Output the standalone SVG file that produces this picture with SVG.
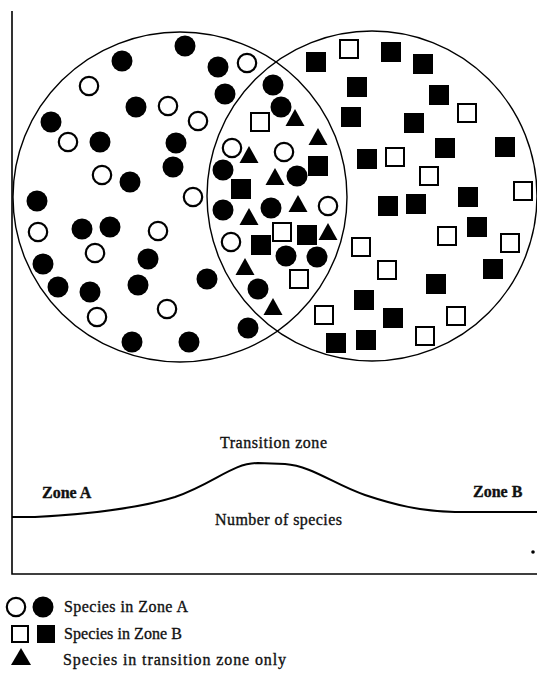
<svg xmlns="http://www.w3.org/2000/svg" xmlns:xlink="http://www.w3.org/1999/xlink" width="537" height="676" viewBox="0 0 537 676">
<style>
.zone{fill:none;stroke:#000;stroke-width:1.4}
.axis{fill:none;stroke:#000;stroke-width:1.6}
.curve{fill:none;stroke:#000;stroke-width:2}
.fc{fill:#000}
.oc{fill:#fff;stroke:#000;stroke-width:2.2}
.fs{fill:#000}
.os{fill:#fff;stroke:#000;stroke-width:2}
.t{font-family:"Liberation Serif","Times New Roman",serif;font-size:16px;fill:#111;stroke:#111;stroke-width:0.35}
.b{font-weight:bold}
</style>
<defs>
<circle id="F" class="fc" r="10.5"/>
<circle id="O" class="oc" r="9.2"/>
<rect id="S" class="fs" x="-10" y="-10" width="20" height="20"/>
<rect id="Q" class="os" x="-9" y="-9" width="18" height="18"/>
<path id="T" class="fc" d="M0,-10 L9.5,7 L-9.5,7 Z"/>
</defs>
<rect width="537" height="676" fill="#fff"/>

<g id="zones">
<ellipse class="zone" cx="180" cy="197" rx="167" ry="165"/>
<circle class="zone" cx="372" cy="196" r="165"/>
</g>

<g id="zoneA-filled">
<use xlink:href="#F" x="185" y="46"/><use xlink:href="#F" x="122" y="61"/><use xlink:href="#F" x="218" y="67"/>
<use xlink:href="#F" x="225" y="94"/><use xlink:href="#F" x="136" y="107"/><use xlink:href="#F" x="51" y="122"/>
<use xlink:href="#F" x="100" y="142"/><use xlink:href="#F" x="176" y="143"/><use xlink:href="#F" x="173" y="167"/>
<use xlink:href="#F" x="130" y="182"/><use xlink:href="#F" x="37" y="201"/><use xlink:href="#F" x="82" y="229"/>
<use xlink:href="#F" x="110" y="227"/><use xlink:href="#F" x="43" y="264"/><use xlink:href="#F" x="148" y="259"/>
<use xlink:href="#F" x="58" y="287"/><use xlink:href="#F" x="90" y="292"/><use xlink:href="#F" x="138" y="285"/>
<use xlink:href="#F" x="207" y="279"/><use xlink:href="#F" x="132" y="342"/><use xlink:href="#F" x="189" y="342"/>
<use xlink:href="#F" x="273" y="85"/><use xlink:href="#F" x="281" y="107"/><use xlink:href="#F" x="223" y="170"/>
<use xlink:href="#F" x="297" y="176"/><use xlink:href="#F" x="223" y="210"/><use xlink:href="#F" x="271" y="208"/>
<use xlink:href="#F" x="286" y="256"/><use xlink:href="#F" x="317" y="257"/><use xlink:href="#F" x="258" y="289"/>
<use xlink:href="#F" x="248" y="328"/>
</g>

<g id="zoneA-open">
<use xlink:href="#O" x="247" y="63"/><use xlink:href="#O" x="89" y="86"/><use xlink:href="#O" x="168" y="106"/>
<use xlink:href="#O" x="198" y="121"/><use xlink:href="#O" x="68" y="142"/><use xlink:href="#O" x="102" y="175"/>
<use xlink:href="#O" x="193" y="197"/><use xlink:href="#O" x="38" y="232"/><use xlink:href="#O" x="158" y="231"/>
<use xlink:href="#O" x="95" y="253"/><use xlink:href="#O" x="167" y="309"/><use xlink:href="#O" x="97" y="317"/>
<use xlink:href="#O" x="232" y="148"/><use xlink:href="#O" x="284" y="152"/><use xlink:href="#O" x="328" y="206"/>
<use xlink:href="#O" x="231" y="242"/>
</g>

<g id="transition-only">
<use xlink:href="#T" x="295" y="119"/><use xlink:href="#T" x="318" y="138"/><use xlink:href="#T" x="249" y="156"/>
<use xlink:href="#T" x="275" y="178"/><use xlink:href="#T" x="298" y="205"/><use xlink:href="#T" x="249" y="218"/>
<use xlink:href="#T" x="328" y="233"/><use xlink:href="#T" x="245" y="268"/><use xlink:href="#T" x="273" y="308"/>
</g>

<g id="zoneB-filled">
<use xlink:href="#S" x="318" y="166"/><use xlink:href="#S" x="241" y="189"/><use xlink:href="#S" x="261" y="245"/>
<use xlink:href="#S" x="307" y="235"/>
<use xlink:href="#S" x="316" y="62"/><use xlink:href="#S" x="391" y="52"/><use xlink:href="#S" x="423" y="64"/>
<use xlink:href="#S" x="357" y="87"/><use xlink:href="#S" x="439" y="95"/><use xlink:href="#S" x="351" y="117"/>
<use xlink:href="#S" x="414" y="123"/><use xlink:href="#S" x="445" y="148"/><use xlink:href="#S" x="505" y="147"/>
<use xlink:href="#S" x="367" y="159"/><use xlink:href="#S" x="468" y="197"/><use xlink:href="#S" x="388" y="206"/>
<use xlink:href="#S" x="416" y="204"/><use xlink:href="#S" x="477" y="227"/><use xlink:href="#S" x="493" y="269"/>
<use xlink:href="#S" x="436" y="284"/><use xlink:href="#S" x="364" y="300"/><use xlink:href="#S" x="393" y="318"/>
<use xlink:href="#S" x="336" y="343"/><use xlink:href="#S" x="366" y="340"/>
</g>

<g id="zoneB-open">
<use xlink:href="#Q" x="260" y="122"/><use xlink:href="#Q" x="282" y="232"/><use xlink:href="#Q" x="299" y="279"/>
<use xlink:href="#Q" x="349" y="49"/><use xlink:href="#Q" x="467" y="113"/><use xlink:href="#Q" x="395" y="157"/>
<use xlink:href="#Q" x="429" y="176"/><use xlink:href="#Q" x="523" y="191"/><use xlink:href="#Q" x="447" y="236"/>
<use xlink:href="#Q" x="510" y="243"/><use xlink:href="#Q" x="361" y="247"/><use xlink:href="#Q" x="387" y="270"/>
<use xlink:href="#Q" x="324" y="315"/><use xlink:href="#Q" x="456" y="316"/><use xlink:href="#Q" x="425" y="336"/>
</g>

<g id="graph">
<path class="axis" d="M12,11 L12,574 L537,574"/>
<path class="curve" d="M12,517 L35,517 C90,514 140,508 175,497 C215,483 232,463 258,463 L285,464 C312,466 335,485 365,495 C395,505 420,511 455,512 L537,512"/>
<circle cx="533" cy="552" r="1.8" fill="#000"/>
<text class="t" x="220" y="448" textLength="107" lengthAdjust="spacing">Transition zone</text>
<text class="t b" x="42" y="498">Zone A</text>
<text class="t b" x="473" y="497">Zone B</text>
<text class="t" x="215" y="525" textLength="127" lengthAdjust="spacing">Number of species</text>
</g>

<g id="legend">
<use xlink:href="#O" x="16" y="607"/><use xlink:href="#F" x="43" y="607"/>
<text class="t" x="64" y="612" textLength="124" lengthAdjust="spacing">Species in Zone A</text>
<rect class="os" x="12" y="626" width="16" height="16"/><rect class="fs" x="37" y="625" width="18" height="18"/>
<text class="t" x="64" y="639" textLength="118" lengthAdjust="spacing">Species in Zone B</text>
<path class="fc" d="M21,648 L31,665 L11,665 Z"/>
<text class="t" x="63" y="665" textLength="223" lengthAdjust="spacing">Species in transition  zone only</text>
</g>
</svg>
